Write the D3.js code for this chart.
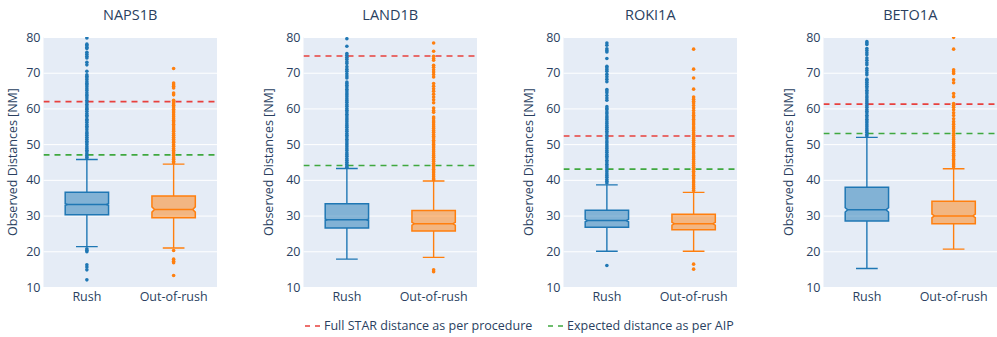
<!DOCTYPE html>
<html>
<head>
<meta charset="utf-8">
<script src="https://cdn.jsdelivr.net/npm/d3@7"></script>
<style>
  html, body { margin: 0; padding: 0; background: #fff; }
  svg { display: block; font-family: "Open Sans", verdana, arial, sans-serif; }
</style>
</head>
<body>
<svg id="chart" width="997" height="337"></svg>
<script>
// STAR routes shown side by side
const routes = ["NAPS1B", "LAND1B", "ROKI1A", "BETO1A"];
const categories = ["Rush", "Out-of-rush"];
const yTicks = [10, 20, 30, 40, 50, 60, 70, 80];

// Reference distances per route [NM]
const fullStarDistance = [61.9, 74.7, 52.3, 61.2];
const expectedAipDistance = [47.0, 44.0, 43.0, 53.0];

// Box statistics per route, as [Rush, Out-of-rush]
const lowerWhisker = [[21.3, 20.9], [17.8, 18.3], [20.0, 20.0], [15.2, 20.6]];
const q1 = [[30.2, 29.4], [26.5, 25.7], [26.7, 26.0], [28.5, 27.7]];
const median = [[33.1, 31.7], [28.8, 27.7], [28.6, 27.7], [31.6, 29.9]];
const q3 = [[36.5, 35.5], [33.3, 31.4], [31.5, 30.4], [37.9, 34.0]];
const upperWhisker = [[45.7, 44.4], [43.2, 39.7], [38.6, 36.5], [51.9, 43.1]];
const notchHalf = [[0.2, 0.75], [0.2, 0.4], [0.35, 0.4], [0.6, 0.5]];

// Outlying flights per route, as [Rush, Out-of-rush]
const outliers = [
  [
    [79.7, 78.0, 77.6, 77.1, 76.8, 75.7, 75.2, 74.6, 74.1, 72.9, 72.2, 70.4, 69.4, 69.0, 68.6, 68.1, 67.5, 67.0,
     66.6, 66.1, 65.5, 65.0, 64.4, 63.8, 63.5, 62.9, 62.3, 61.8, 61.2, 60.7, 60.1, 59.8, 59.2, 58.6, 58.1, 57.7,
     57.0, 56.6, 56.1, 55.5, 55.0, 54.6, 54.0, 53.4, 53.0, 52.5, 51.9, 51.4, 50.8, 50.4, 49.9, 49.3, 48.8, 48.3,
     47.9, 47.3, 46.9, 46.4, 46.1, 20.7, 20.3, 19.9, 16.2, 15.6, 14.8, 12.0],
    [71.2, 67.1, 66.6, 66.2, 65.7, 64.3, 63.8, 62.3, 61.8, 61.3, 60.9, 60.4, 59.8, 59.3, 58.8, 58.2, 57.7, 57.1,
     56.6, 56.2, 55.6, 55.1, 54.5, 54.0, 53.6, 53.0, 52.5, 51.9, 51.4, 50.9, 50.5, 49.9, 49.4, 48.8, 48.3, 47.8,
     47.3, 46.8, 46.2, 45.8, 45.2, 44.8, 20.2, 17.8, 17.2, 16.8, 13.2]
  ],
  [
    [79.5, 77.4, 75.4, 74.9, 74.3, 73.8, 73.1, 72.6, 71.7, 71.0, 70.4, 69.7, 69.1, 68.5, 67.4, 67.0, 66.5, 66.0,
     65.4, 64.9, 64.3, 63.8, 63.3, 62.7, 62.2, 61.7, 61.1, 60.6, 60.0, 59.5, 59.0, 58.4, 57.9, 57.3, 56.8, 56.3,
     55.7, 55.2, 54.7, 54.1, 53.6, 53.0, 52.5, 52.0, 51.4, 50.9, 50.3, 49.8, 49.3, 48.7, 48.2, 47.6, 47.1, 46.6,
     46.0, 45.5, 44.9, 44.4, 43.9, 43.5],
    [78.3, 76.0, 74.6, 74.0, 73.5, 72.1, 71.5, 70.8, 70.2, 69.5, 68.8, 67.0, 66.2, 65.5, 64.8, 64.0, 63.2, 62.4,
     61.6, 60.1, 59.4, 58.9, 57.6, 57.1, 56.5, 56.0, 55.4, 54.9, 54.4, 53.8, 53.3, 52.7, 52.2, 51.7, 51.1, 50.6,
     50.0, 49.5, 49.0, 48.4, 47.9, 47.3, 46.8, 46.3, 45.7, 45.2, 44.6, 44.1, 43.6, 43.0, 42.5, 42.0, 41.4, 40.9,
     40.3, 40.0, 14.8, 14.3]
  ],
  [
    [78.3, 77.7, 76.7, 76.2, 75.8, 74.0, 71.8, 71.4, 70.9, 70.4, 69.6, 68.9, 68.2, 67.5, 65.3, 64.9, 64.4, 63.6,
     62.9, 62.3, 60.5, 60.0, 59.6, 59.0, 58.5, 57.9, 57.4, 56.9, 56.3, 55.8, 55.2, 54.7, 54.2, 53.6, 53.1, 52.5,
     52.0, 51.5, 50.9, 50.4, 49.8, 49.3, 48.8, 48.2, 47.7, 47.1, 46.6, 46.1, 45.5, 45.0, 44.4, 43.9, 43.4, 42.8,
     42.3, 41.7, 41.2, 40.7, 40.1, 39.6, 39.1, 16.0],
    [76.6, 71.0, 68.5, 65.4, 63.2, 62.6, 62.0, 61.5, 60.8, 60.1, 59.4, 58.7, 58.1, 57.6, 57.0, 56.5, 55.9, 55.4,
     54.8, 54.3, 53.8, 53.2, 52.7, 52.1, 51.6, 51.1, 50.5, 50.0, 49.4, 48.9, 48.4, 47.8, 47.3, 46.7, 46.2, 45.7,
     45.1, 44.6, 44.0, 43.5, 43.0, 42.4, 41.9, 41.3, 40.8, 40.3, 39.7, 39.2, 38.6, 38.1, 37.6, 37.0, 16.4, 15.0]
  ],
  [
    [78.7, 78.3, 77.9, 76.8, 76.2, 75.6, 75.0, 74.1, 73.5, 72.8, 72.2, 71.2, 70.6, 70.0, 69.4, 68.2, 67.8, 67.3,
     66.8, 66.2, 65.7, 65.1, 64.6, 64.1, 63.5, 63.0, 62.4, 61.9, 61.4, 60.8, 60.3, 59.7, 59.2, 58.7, 58.1, 57.6,
     57.0, 56.5, 56.0, 55.4, 54.9, 54.3, 53.8, 53.3, 52.7, 52.3],
    [79.9, 76.6, 70.8, 70.3, 69.8, 68.0, 67.2, 64.2, 63.3, 61.4, 60.9, 60.3, 59.6, 58.8, 58.0, 57.1, 56.3, 55.6,
     54.9, 54.3, 53.7, 53.0, 52.4, 51.8, 51.3, 50.7, 50.2, 49.6, 49.1, 48.5, 48.0, 47.4, 46.9, 46.4, 45.8, 45.3,
     44.7, 44.2, 43.7]
  ]
];

const seriesColor = ["#1f77b4", "#ff7f0e"];
const seriesFill = ["rgba(31,119,180,0.5)", "rgba(255,127,14,0.5)"];
const lineColor = { star: "#e8403d", aip: "#3fa83f" };
const textColor = "#2a3f5f";

const svg = d3.select("#chart");
const panelWidth = 173.5, panelStep = 260, panelLeft0 = 43.5;
const plotTop = 37, plotBottom = 287;
const y = d3.scaleLinear().domain([10, 80]).range([plotBottom, plotTop]);

routes.forEach((route, i) => {
  const left = panelLeft0 + i * panelStep;
  const right = left + panelWidth;
  const x = d3.scaleBand().domain(categories).range([left, right]).padding(0);
  const boxHalf = x.bandwidth() * 0.25;
  const capHalf = boxHalf * 0.5;
  const notchInset = boxHalf * 0.12;

  const g = svg.append("g");

  // plot background
  g.append("rect")
    .attr("x", left).attr("y", plotTop)
    .attr("width", panelWidth).attr("height", plotBottom - plotTop)
    .attr("fill", "#e5ecf6");

  // horizontal gridlines
  const grid = g.append("g")
    .attr("transform", `translate(${left},0)`)
    .call(d3.axisLeft(y).tickValues(yTicks).tickSize(-panelWidth).tickFormat(""));
  grid.select(".domain").remove();
  grid.selectAll("line").attr("stroke", "#ffffff").attr("stroke-width", 1);

  // y tick labels
  const ya = g.append("g")
    .attr("transform", `translate(${left},0)`)
    .call(d3.axisLeft(y).tickValues(yTicks).tickSize(0).tickPadding(3));
  ya.select(".domain").remove();
  ya.selectAll("text").attr("fill", textColor).style("font-size", "12.5px")
    .style("font-family", "'Open Sans', verdana, arial, sans-serif");

  // x tick labels
  const xa = g.append("g")
    .attr("transform", `translate(0,${plotBottom})`)
    .call(d3.axisBottom(x).tickSize(0).tickPadding(5));
  xa.select(".domain").remove();
  xa.selectAll("text").attr("fill", textColor).style("font-size", "12.5px")
    .style("font-family", "'Open Sans', verdana, arial, sans-serif");

  // subplot title
  g.append("text")
    .attr("x", (left + right) / 2).attr("y", 20)
    .attr("text-anchor", "middle")
    .attr("fill", textColor)
    .style("font-size", "14.5px")
    .text(route);

  // y axis title
  const titleX = left - (i === 0 ? 31 : 35);
  g.append("text")
    .attr("transform", `translate(${titleX},${(plotTop + plotBottom) / 2}) rotate(-90)`)
    .attr("text-anchor", "middle")
    .attr("dy", "0.35em")
    .attr("fill", textColor)
    .style("font-size", "12.5px")
    .text("Observed Distances [NM]");

  // clipped plot content
  const clipId = `clip-${i}`;
  g.append("clipPath").attr("id", clipId)
    .append("rect").attr("x", left).attr("y", plotTop)
    .attr("width", panelWidth).attr("height", plotBottom - plotTop);
  const plot = g.append("g").attr("clip-path", `url(#${clipId})`);

  // reference distance lines
  [[fullStarDistance[i], lineColor.star], [expectedAipDistance[i], lineColor.aip]].forEach(([v, c]) => {
    plot.append("line")
      .attr("x1", left).attr("x2", right)
      .attr("y1", y(v)).attr("y2", y(v))
      .attr("stroke", c).attr("stroke-width", 1.6)
      .attr("stroke-dasharray", "6,5");
  });

  categories.forEach((cat, j) => {
    const cx = x(cat) + x.bandwidth() / 2;
    const color = seriesColor[j];
    const p0 = cx - boxHalf, p1 = cx + boxHalf;
    const m0 = p0 + notchInset, m1 = p1 - notchInset;
    const yq1 = y(q1[i][j]), yq3 = y(q3[i][j]), ym = y(median[i][j]);
    const yn0 = y(median[i][j] - notchHalf[i][j]), yn1 = y(median[i][j] + notchHalf[i][j]);

    // whiskers and caps
    const lw = y(lowerWhisker[i][j]), uw = y(upperWhisker[i][j]);
    plot.append("path")
      .attr("d", `M${cx},${yq1}V${lw}M${cx},${yq3}V${uw}` +
                 `M${cx - capHalf},${lw}H${cx + capHalf}M${cx - capHalf},${uw}H${cx + capHalf}`)
      .attr("fill", "none").attr("stroke", color).attr("stroke-width", 1.4);

    // notched box with median
    const box = `M${p0},${yq1}H${p1}V${yn0}L${m1},${ym}L${p1},${yn1}V${yq3}H${p0}V${yn1}L${m0},${ym}L${p0},${yn0}Z`;
    plot.append("path")
      .attr("d", box + `M${m0},${ym}H${m1}`)
      .attr("fill", seriesFill[j]).attr("stroke", color)
      .attr("stroke-width", 1.5).attr("stroke-linejoin", "miter");

    // outlier points
    plot.append("g").selectAll("circle")
      .data(outliers[i][j])
      .join("circle")
      .attr("cx", cx).attr("cy", d => y(d))
      .attr("r", 1.8)
      .attr("fill", color);
  });
});

// legend
const legendItems = [
  { label: "Full STAR distance as per procedure", color: lineColor.star, x: 305 },
  { label: "Expected distance as per AIP", color: lineColor.aip, x: 548 }
];
const legend = svg.append("g");
legendItems.forEach(item => {
  legend.append("line")
    .attr("x1", item.x).attr("x2", item.x + 15)
    .attr("y1", 326).attr("y2", 326)
    .attr("stroke", item.color).attr("stroke-width", 1.6)
    .attr("stroke-dasharray", "5,5");
  legend.append("text")
    .attr("x", item.x + 19).attr("y", 326)
    .attr("dy", "0.35em")
    .attr("fill", textColor)
    .style("font-size", "12.5px")
    .text(item.label);
});
</script>
</body>
</html>
